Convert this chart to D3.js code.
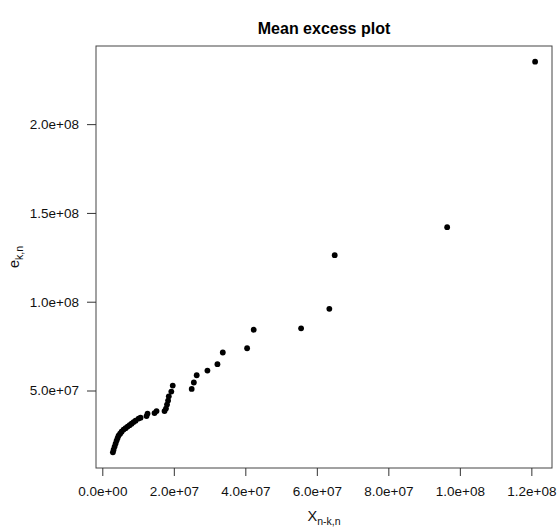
<!DOCTYPE html>
<html>
<head>
<meta charset="utf-8">
<script src="https://cdn.jsdelivr.net/npm/d3@7"></script>
<style>
  html, body { margin: 0; padding: 0; background: #fff; }
  svg { display: block; font-family: "Liberation Sans", Arial, Helvetica, sans-serif; }
</style>
</head>
<body>
<svg id="chart" width="557" height="532"></svg>
<script>
// Threshold values X_{n-k,n}
const thresholds = [
  2.96e6, 3.16e6, 3.44e6, 3.72e6, 4.00e6, 4.27e6, 4.55e6, 4.97e6, 5.39e6, 5.95e6,
  6.51e6, 7.07e6, 7.63e6, 8.18e6, 8.74e6, 9.30e6, 1.014e7, 1.07e7, 1.237e7, 1.265e7,
  1.46e7, 1.517e7, 1.74e7, 1.78e7, 1.81e7, 1.84e7, 1.86e7, 1.93e7, 1.97e7,
  2.50e7, 2.56e7, 2.64e7, 2.94e7, 3.22e7, 3.37e7, 4.05e7, 4.235e7, 5.56e7,
  6.35e7, 6.50e7, 9.645e7, 1.2105e8
];
// Mean excess e_{k,n}
const meanExcess = [
  1.516e7, 1.67e7, 1.84e7, 2.01e7, 2.18e7, 2.32e7, 2.46e7, 2.57e7, 2.68e7, 2.80e7,
  2.88e7, 2.97e7, 3.05e7, 3.13e7, 3.22e7, 3.30e7, 3.42e7, 3.47e7, 3.56e7, 3.70e7,
  3.73e7, 3.84e7, 3.84e7, 3.98e7, 4.21e7, 4.43e7, 4.67e7, 4.94e7, 5.28e7,
  5.09e7, 5.45e7, 5.86e7, 6.12e7, 6.48e7, 7.14e7, 7.38e7, 8.42e7, 8.5e7,
  9.6e7, 1.262e8, 1.42e8, 2.352e8
];
const xTicks = [0, 2e7, 4e7, 6e7, 8e7, 1e8, 1.2e8];
const yTicks = [5e7, 1e8, 1.5e8, 2e8];
const titleText = "Mean excess plot";

const data = thresholds.map((x, i) => ({ x, y: meanExcess[i] }));

const svg = d3.select("#chart");
const plot = { left: 96, right: 552, top: 46, bottom: 468 };

function padded(ext) {
  const r = ext[1] - ext[0];
  return [ext[0] - 0.04 * r, ext[1] + 0.04 * r];
}

const x = d3.scaleLinear().domain(padded(d3.extent(thresholds))).range([plot.left, plot.right]);
const y = d3.scaleLinear().domain(padded(d3.extent(meanExcess))).range([plot.bottom, plot.top]);

function sci(d) {
  if (d === 0) return "0.0e+00";
  const e = Math.floor(Math.log10(Math.abs(d)) + 1e-9);
  const m = d / Math.pow(10, e);
  return m.toFixed(1) + "e" + (e >= 0 ? "+" : "-") + String(Math.abs(e)).padStart(2, "0");
}

// box
svg.append("rect")
  .attr("x", plot.left).attr("y", plot.top)
  .attr("width", plot.right - plot.left).attr("height", plot.bottom - plot.top)
  .attr("fill", "none").attr("stroke", "#444").attr("stroke-width", 1);

// x axis
const gx = svg.append("g")
  .attr("transform", `translate(0,${plot.bottom})`)
  .call(d3.axisBottom(x).tickValues(xTicks).tickFormat(sci).tickSize(8).tickPadding(10).tickSizeOuter(0));
gx.select(".domain").remove();
gx.selectAll("line").attr("stroke", "#333");
gx.selectAll("text").attr("font-size", 13.5).attr("fill", "#111")
  .attr("font-family", "Liberation Sans, Arial, sans-serif");

// y axis
const gy = svg.append("g")
  .attr("transform", `translate(${plot.left},0)`)
  .call(d3.axisLeft(y).tickValues(yTicks).tickFormat(sci).tickSize(9).tickPadding(8).tickSizeOuter(0));
gy.select(".domain").remove();
gy.selectAll("line").attr("stroke", "#333");
gy.selectAll("text").attr("font-size", 13.5).attr("fill", "#111")
  .attr("font-family", "Liberation Sans, Arial, sans-serif");

// points
svg.append("g").selectAll("circle").data(data).join("circle")
  .attr("cx", d => x(d.x)).attr("cy", d => y(d.y))
  .attr("r", 2.9).attr("fill", "#000");

// title
svg.append("text")
  .attr("x", (plot.left + plot.right) / 2).attr("y", 34)
  .attr("text-anchor", "middle").attr("font-size", 16).attr("font-weight", "bold")
  .attr("fill", "#000").text(titleText);

// x label
const xl = svg.append("text")
  .attr("x", (plot.left + plot.right) / 2).attr("y", 521)
  .attr("text-anchor", "middle").attr("font-size", 14.5).attr("fill", "#111");
xl.append("tspan").text("X");
xl.append("tspan").attr("font-size", 10.5).attr("dy", 4).text("n-k,n");

// y label
const yl = svg.append("text")
  .attr("transform", `translate(19,${(plot.top + plot.bottom) / 2}) rotate(-90)`)
  .attr("text-anchor", "middle").attr("font-size", 14.5).attr("fill", "#111");
yl.append("tspan").text("e");
yl.append("tspan").attr("font-size", 10.5).attr("dy", 4).text("k,n");
</script>
</body>
</html>
